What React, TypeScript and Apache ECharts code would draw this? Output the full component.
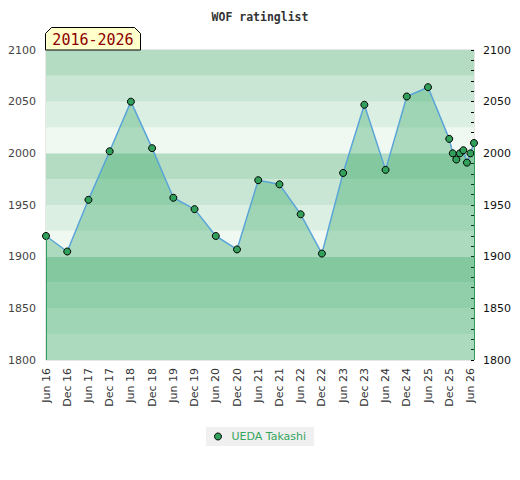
import React, { useEffect, useRef } from "react";
import * as echarts from "echarts";

const TITLE = "WOF ratinglist";
const PLAYER = "UEDA Takashi";
const DATES = [
  "2016-06", "2016-12", "2017-06", "2017-12", "2018-06", "2018-12",
  "2019-06", "2019-12", "2020-06", "2020-12", "2021-06", "2021-12",
  "2022-06", "2022-12", "2023-06", "2023-12", "2024-06", "2024-12",
  "2025-06", "2025-12", "2026-01", "2026-02", "2026-03", "2026-04",
  "2026-05", "2026-06", "2026-07",
];
const RATINGS = [
  1920, 1905, 1955, 2002, 2050, 2005,
  1957, 1946, 1920, 1907, 1974, 1970,
  1941, 1903, 1981, 2047, 1984, 2055,
  2064, 2014, 2000, 1994, 2000, 2003,
  1991, 2000, 2010,
];
const MONTH_NAMES = ["Jan", "Feb", "Mar", "Apr", "May", "Jun", "Jul", "Aug", "Sep", "Oct", "Nov", "Dec"];
const Y_MIN = 1800;
const Y_MAX = 2100;
const Y_STEP = 50;
const BAND_STEP = 25;
const X_STEP = 6;
const BAND_COLORS = ["#f0f8f2", "#dcefe3", "#c8e6d3", "#b3dcc3"];

const START_YEAR = parseInt(DATES[0].slice(0, 4), 10);
const START_MONTH = parseInt(DATES[0].slice(5, 7), 10) - 1;
const END_YEAR = parseInt(DATES[DATES.length - 1].slice(0, 4), 10);

function monthIndex(d: string): number {
  const y = parseInt(d.slice(0, 4), 10);
  const m = parseInt(d.slice(5, 7), 10) - 1;
  return (y - START_YEAR) * 12 + (m - START_MONTH);
}

function monthLabel(v: number): string {
  const abs = START_MONTH + Math.round(v);
  const m = ((abs % 12) + 12) % 12;
  const y = START_YEAR + Math.floor(abs / 12);
  return MONTH_NAMES[m] + " " + String(y).slice(2);
}

export default function App() {
  const ref = useRef<HTMLDivElement>(null);

  useEffect(() => {
    if (!ref.current) return;
    const chart = echarts.init(ref.current, null, { renderer: "svg" });
    const points = DATES.map((d, i) => [monthIndex(d), RATINGS[i]]);
    const first = points[0];
    const last = points[points.length - 1];
    const plain = (v: number) => String(v);

    const option: any = {
      animation: false,
      backgroundColor: "#ffffff",
      textStyle: { fontFamily: "DejaVu Sans" },
      title: {
        text: TITLE,
        left: "center",
        top: 6,
        textStyle: {
          fontFamily: "DejaVu Sans Mono",
          fontWeight: "bold",
          fontSize: 11.5,
          color: "#333",
        },
      },
      legend: {
        data: [PLAYER],
        left: 206,
        top: 427,
        padding: [4, 8, 4, 8],
        backgroundColor: "#f0f0f0",
        icon: "circle",
        itemWidth: 7,
        itemHeight: 7,
        itemStyle: { borderColor: "#000", borderWidth: 1 },
        textStyle: {
          color: "#35a55e",
          fontSize: 11,
          fontFamily: "DejaVu Sans",
          padding: [0, 0, 0, 5],
        },
      },
      grid: {
        left: 46,
        right: 46,
        top: 50,
        bottom: 120,
        show: true,
        borderColor: "#d0d0d0",
        borderWidth: 1,
        backgroundColor: "transparent",
      },
      xAxis: {
        type: "value",
        min: first[0],
        max: last[0],
        interval: X_STEP,
        axisLine: { show: false },
        axisTick: { show: false },
        splitLine: { show: false },
        axisLabel: {
          rotate: 90,
          fontSize: 11,
          color: "#333",
          margin: 8,
          showMaxLabel: false,
          formatter: (v: number) => (Math.round(v) % X_STEP === 0 ? monthLabel(v) : ""),
        },
      },
      yAxis: [
        {
          type: "value",
          position: "left",
          min: Y_MIN,
          max: Y_MAX,
          interval: Y_STEP,
          axisLine: { show: false },
          axisTick: { show: false },
          splitLine: { show: false },
          axisLabel: { color: "#444", fontSize: 11, margin: 10, formatter: plain },
        },
        {
          type: "value",
          position: "right",
          min: Y_MIN,
          max: Y_MAX,
          interval: Y_STEP,
          axisLine: { show: false },
          axisTick: { show: true, inside: true, length: 3, lineStyle: { color: "#000" } },
          minorTick: { show: true, splitNumber: 5, length: 3, lineStyle: { color: "#000" } },
          splitLine: { show: false },
          axisLabel: { color: "#111", fontSize: 11, margin: 9, formatter: plain },
        },
        {
          type: "value",
          position: "left",
          min: Y_MIN,
          max: Y_MAX,
          interval: BAND_STEP,
          axisLine: { show: false },
          axisTick: { show: false },
          axisLabel: { show: false },
          splitLine: { show: false },
          splitArea: { show: true, areaStyle: { color: BAND_COLORS } },
        },
      ],
      series: [
        {
          name: PLAYER,
          type: "line",
          xAxisIndex: 0,
          yAxisIndex: 0,
          data: points,
          symbol: "circle",
          symbolSize: 7,
          itemStyle: { color: "#30a05a", borderColor: "#000", borderWidth: 1 },
          lineStyle: { color: "#5aa5d8", width: 1.5 },
          areaStyle: { color: "rgba(40,160,90,0.48)", origin: "start" },
          markLine: {
            silent: true,
            symbol: ["none", "none"],
            label: { show: false },
            lineStyle: { color: "#2f9e5c", width: 1, type: "solid" },
            data: [
              [{ coord: [first[0], first[1]] }, { coord: [first[0], Y_MIN] }],
              [{ coord: [last[0], last[1]] }, { coord: [last[0], Y_MIN] }],
            ],
          },
        },
      ],
      graphic: [
        {
          type: "polygon",
          z: 100,
          shape: {
            points: [
              [45.5, 50],
              [45.5, 33.5],
              [51.5, 27.5],
              [134.5, 27.5],
              [140.5, 33.5],
              [140.5, 50],
            ],
          },
          style: { fill: "#ffffcc", stroke: "#000", lineWidth: 1 },
        },
        {
          type: "text",
          z: 101,
          x: 93,
          y: 39.5,
          style: {
            text: START_YEAR + "-" + END_YEAR,
            fill: "#8b0000",
            font: "15px 'DejaVu Sans Mono'",
            align: "center",
            verticalAlign: "middle",
          },
        },
      ],
    };

    chart.setOption(option);
    return () => chart.dispose();
  }, []);

  return (
    <div
      ref={ref}
      style={{ position: "fixed", left: 0, top: 0, width: 520, height: 480, background: "#fff" }}
    />
  );
}
